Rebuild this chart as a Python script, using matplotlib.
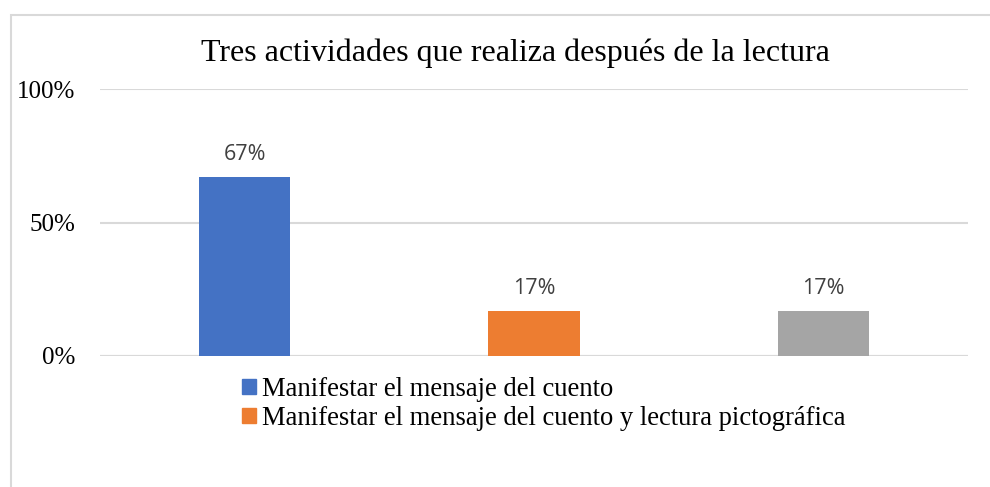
import numpy as np
from matplotlib import pyplot as plt
import matplotlib.patches as mpatches

title = 'Tres actividades que realiza después de la lectura'
series = ['Manifestar el mensaje del cuento',
          'Manifestar el mensaje del cuento y lectura pictográfica',
          'Otra actividad']
values = [0.67, 0.17, 0.17]
labels = ['67%', '17%', '17%']
colors = ['#4472C4', '#ED7D31', '#A5A5A5']
yticks = [0, 0.5, 1.0]
ytick_labels = ['0%', '50%', '100%']

W, H = 990, 487
fig = plt.figure(figsize=(W / 100, H / 100), dpi=100)
ax = fig.add_axes([100 / W, 1 - 356 / H, 868 / W, (356 - 89) / H])

x = np.arange(len(values))
ax.bar(x, values, width=0.315, color=colors, zorder=3)
for xi, v, lab in zip(x, values, labels):
    ax.text(xi, v + 0.045, lab, ha='center', va='bottom', fontsize=15.5,
            color='#404040', family='Open Sans')

ax.set_xlim(-0.5, 2.5)
ax.set_ylim(0, 1.0)
ax.set_yticks(yticks)
ax.set_yticklabels(ytick_labels, family='Liberation Serif', fontsize=18)
ax.set_xticks([])
ax.tick_params(axis='y', length=0, pad=18)
ax.grid(axis='y', color='#D9D9D9', linewidth=1.5, zorder=0)
for s in ax.spines.values():
    s.set_visible(False)
ax.axhline(0, color='#D9D9D9', linewidth=1.5, zorder=2)

fig.text(515 / W, 1 - 53 / H, title, ha='center', va='center',
         family='Liberation Serif', fontsize=23)

handles = [mpatches.Patch(color=c, label=s) for c, s in zip(colors[:2], series[:2])]
fig.legend(handles=handles, loc='upper left', bbox_to_anchor=(242 / W, 1 - 377 / H),
           frameon=False, prop={'family': 'Liberation Serif', 'size': 19.2},
           handlelength=0.53, handleheight=0.5, handletextpad=0.23,
           labelspacing=0.14, borderpad=0, borderaxespad=0)

# chart area border (cropped on right and bottom)
fig.patches.append(mpatches.Rectangle((11 / W, -0.1), 1.2, 1 - 15 / H + 0.1,
                                      transform=fig.transFigure, fill=False,
                                      edgecolor='#D9D9D9', linewidth=1.5))

fig.savefig('out.png', dpi=100)
